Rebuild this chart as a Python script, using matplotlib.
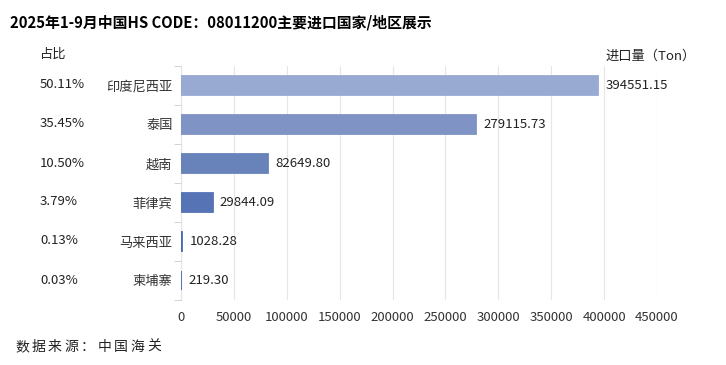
import matplotlib.pyplot as plt

plt.rcParams['font.family'] = ['Noto Sans CJK SC', 'DejaVu Sans']

countries = ['印度尼西亚', '泰国', '越南', '菲律宾', '马来西亚', '柬埔寨']
volumes = [394551.15, 279115.73, 82649.80, 29844.09, 1028.28, 219.30]
shares = ['50.11%', '35.45%', '10.50%', '3.79%', '0.13%', '0.03%']
bar_colors = ['#98aad1', '#7f94c4', '#6882ba', '#5573b5', '#4a6ab0', '#4a6ab0']
xticks = list(range(0, 450001, 50000))
source = '数据来源：中国海关'

W, H = 726, 365
fig = plt.figure(figsize=(W / 100, H / 100), dpi=100)
ax = fig.add_axes([181 / W, 1 - 300 / H, (657 - 181) / W, (300 - 66) / H])

y = list(range(len(countries)))
# edge in the bar colour keeps the tiny bars visible as thin lines
ax.barh(y, volumes, height=0.50, color=bar_colors, edgecolor=bar_colors,
        linewidth=1.3, zorder=3)
ax.set_ylim(len(countries) - 0.5, -0.5)
ax.set_xlim(0, 450000)

for i, v in enumerate(volumes):
    ax.text(v + 7000, i, f'{v:.2f}', va='center', ha='left', fontsize=9.5, color='#222222')

ax.set_yticks(y)
ax.set_yticklabels(countries, fontsize=9.5, color='#333333')
ax.set_yticks([i + 0.5 for i in range(-1, len(countries))], minor=True)
ax.tick_params(axis='y', which='major', length=0, pad=6)
ax.tick_params(axis='y', which='minor', length=5, color='#cccccc')

ax.set_xticks(xticks)
ax.set_xticklabels([str(t) for t in xticks], fontsize=9.5, color='#333333')
ax.tick_params(axis='x', length=0, pad=8)
ax.grid(axis='x', color='#e6e6e6', linewidth=0.8, zorder=0)

for s in ['top', 'right', 'bottom']:
    ax.spines[s].set_visible(False)
ax.spines['left'].set_color('#cccccc')
ax.spines['left'].set_zorder(1)

for i, s in enumerate(shares):
    ax.text(40 / W, 1 - (85 + 39 * i) / H, s, transform=fig.transFigure,
            va='center', ha='left', fontsize=9.5, color='#222222')

fig.text(10 / W, 1 - 22 / H, '2025年1-9月中国HS CODE：08011200主要进口国家/地区展示',
         fontsize=10.7, fontweight='bold', va='center', ha='left')
fig.text(40 / W, 1 - 54 / H, '占比', fontsize=9.5, va='center', ha='left', color='#222222')
fig.text(605 / W, 1 - 56 / H, '进口量（Ton）', fontsize=9.5, va='center', ha='left', color='#222222')

# source line is letter-spaced in the original
for k, ch in enumerate(source):
    fig.text((15 + 16.5 * k) / W, 1 - 347 / H, ch, fontsize=10, va='center',
             ha='left', color='#222222')

fig.savefig('out.png', dpi=100)
